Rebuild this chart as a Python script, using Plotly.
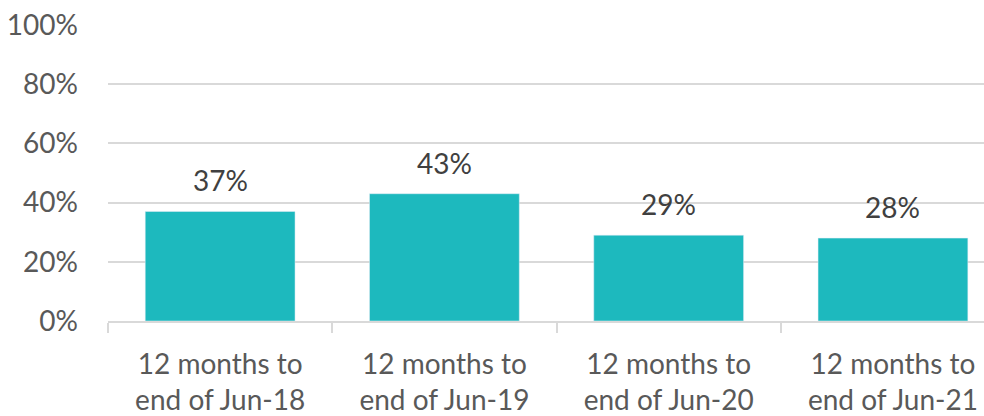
import plotly.graph_objects as go

categories = ["12 months to<br>end of Jun-18", "12 months to<br>end of Jun-19",
              "12 months to<br>end of Jun-20", "12 months to<br>end of Jun-21"]
values = [37, 43, 29, 28]
y_ticks = [0, 20, 40, 60, 80, 100]
y_tick_text = ["0%", "20%", "40%", "60%", "80%", "100%"]

fig = go.Figure()
fig.add_trace(go.Bar(x=categories, y=values, marker_color="#1DB9BE",
                     width=0.668, hoverinfo="skip"))

for c, v in zip(categories, values):
    fig.add_annotation(x=c, y=v, text=f"{v}%", showarrow=False, yanchor="bottom",
                       yshift=12, font=dict(size=28, color="#404040", family="Lato"))

fig.update_layout(
    width=984, height=416, autosize=False,
    margin=dict(l=108, r=0, t=25, b=95),
    plot_bgcolor="white", paper_bgcolor="white",
    showlegend=False,
    font=dict(family="Lato", color="#595959"),
    xaxis=dict(range=[-0.5, 3.406], tickson="boundaries", ticks="outside", ticklen=10,
               tickcolor="#D9D9D9", tickwidth=2, showline=True, linecolor="#D9D9D9",
               linewidth=2, showgrid=False, tickfont=dict(size=28, color="#595959"),
               ticklabelstandoff=17, automargin=False, fixedrange=True),
    yaxis=dict(range=[0, 100], tickvals=y_ticks, ticktext=y_tick_text, showgrid=True,
               gridcolor="#D9D9D9", gridwidth=1.5, zeroline=False, showline=False,
               tickfont=dict(size=28, color="#595959"), ticklabelstandoff=29,
               automargin=False, fixedrange=True),
)

fig.write_html("out.html", config={"displayModeBar": False},
               post_script="document.body.style.margin='0';document.body.style.overflow='hidden';")
